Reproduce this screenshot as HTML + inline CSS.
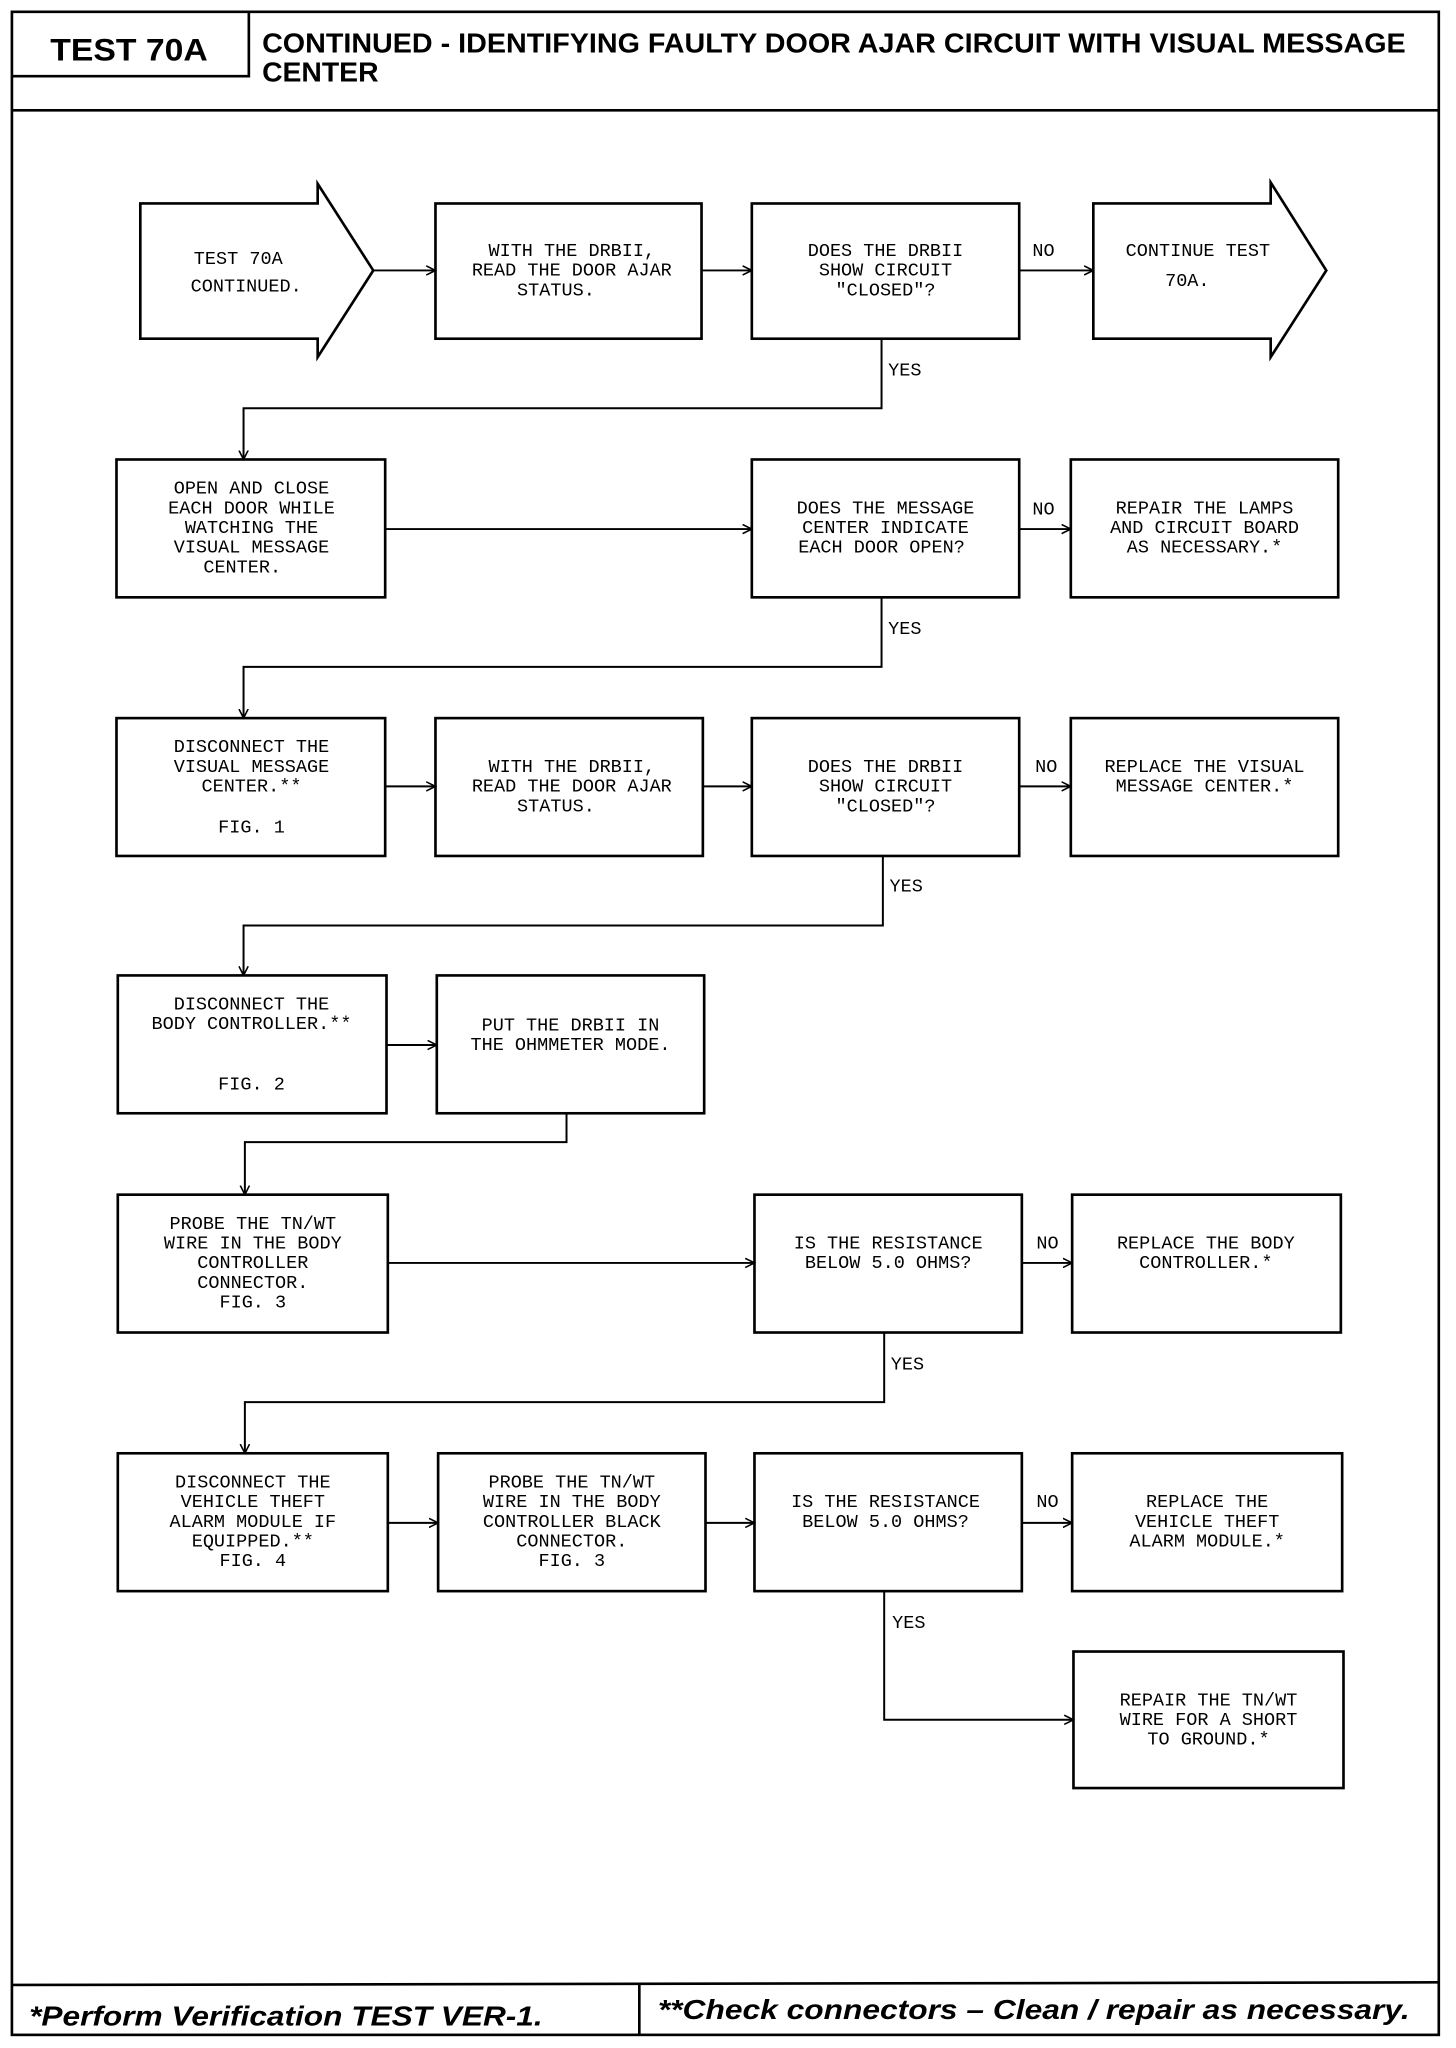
<!DOCTYPE html>
<html><head><meta charset="utf-8"><style>
html,body{margin:0;padding:0;background:#fff;}
svg{display:block;}
.t{font-family:"Liberation Mono",monospace;font-size:14px;fill:#000;text-anchor:middle;}
.l{font-family:"Liberation Mono",monospace;font-size:14px;fill:#000;}
</style></head><body>
<svg width="1456" height="2048" viewBox="0 0 1100 1560" preserveAspectRatio="none" xmlns="http://www.w3.org/2000/svg">
<defs><marker id="a" markerWidth="8" markerHeight="8" refX="7" refY="4" orient="auto" markerUnits="userSpaceOnUse"><path d="M0,0.5 L7,4 L0,7.5" fill="none" stroke="#000" stroke-width="1.2"/></marker></defs>
<g fill="none" stroke="#000" stroke-width="2">
<rect x="9" y="9" width="1078" height="1541"/>
<line x1="9" y1="84" x2="1087" y2="84"/>
<path d="M9,58 H188 V9"/>
<line x1="9" y1="1512" x2="1087" y2="1510"/>
<line x1="483" y1="1512" x2="483" y2="1550"/>
<!-- row1 -->
<path d="M106,155 H240 V140 L282,206 L240,272 V258 H106 Z"/>
<rect x="329" y="155" width="201" height="103"/>
<rect x="568" y="155" width="202" height="103"/>
<path d="M826,155 H960 V139 L1002,206 L960,272 V258 H826 Z"/>
<!-- row2 -->
<rect x="88" y="350" width="203" height="105"/>
<rect x="568" y="350" width="202" height="105"/>
<rect x="809" y="350" width="202" height="105"/>
<!-- row3 -->
<rect x="88" y="547" width="203" height="105"/>
<rect x="329" y="547" width="202" height="105"/>
<rect x="568" y="547" width="202" height="105"/>
<rect x="809" y="547" width="202" height="105"/>
<!-- row4 -->
<rect x="89" y="743" width="203" height="105"/>
<rect x="330" y="743" width="202" height="105"/>
<!-- row5 -->
<rect x="89" y="910" width="204" height="105"/>
<rect x="570" y="910" width="202" height="105"/>
<rect x="810" y="910" width="203" height="105"/>
<!-- row6 -->
<rect x="89" y="1107" width="204" height="105"/>
<rect x="331" y="1107" width="202" height="105"/>
<rect x="570" y="1107" width="202" height="105"/>
<rect x="810" y="1107" width="204" height="105"/>
<rect x="811" y="1258" width="204" height="104"/>
</g>
<g fill="none" stroke="#000" stroke-width="1.5">
<line x1="282" y1="206" x2="329" y2="206" marker-end="url(#a)"/>
<line x1="530" y1="206" x2="568" y2="206" marker-end="url(#a)"/>
<line x1="770" y1="206" x2="826" y2="206" marker-end="url(#a)"/>
<path d="M666,258 V311 H184 V350" marker-end="url(#a)"/>
<line x1="291" y1="403" x2="568" y2="403" marker-end="url(#a)"/>
<line x1="770" y1="403" x2="809" y2="403" marker-end="url(#a)"/>
<path d="M666,455 V508 H184 V547" marker-end="url(#a)"/>
<line x1="291" y1="599" x2="329" y2="599" marker-end="url(#a)"/>
<line x1="531" y1="599" x2="568" y2="599" marker-end="url(#a)"/>
<line x1="770" y1="599" x2="809" y2="599" marker-end="url(#a)"/>
<path d="M667,652 V705 H184 V743" marker-end="url(#a)"/>
<line x1="292" y1="796" x2="330" y2="796" marker-end="url(#a)"/>
<path d="M428,848 V870 H185 V910" marker-end="url(#a)"/>
<line x1="293" y1="962" x2="570" y2="962" marker-end="url(#a)"/>
<line x1="772" y1="962" x2="810" y2="962" marker-end="url(#a)"/>
<path d="M668,1015 V1068 H185 V1107" marker-end="url(#a)"/>
<line x1="293" y1="1160" x2="331" y2="1160" marker-end="url(#a)"/>
<line x1="533" y1="1160" x2="570" y2="1160" marker-end="url(#a)"/>
<line x1="772" y1="1160" x2="810" y2="1160" marker-end="url(#a)"/>
<path d="M668,1212 V1310 H811" marker-end="url(#a)"/>
</g>
<!-- header -->
<text x="38" y="46" font-family="Liberation Sans,sans-serif" font-weight="bold" font-size="24" textLength="119" lengthAdjust="spacingAndGlyphs">TEST 70A</text>
<text x="198" y="40" font-family="Liberation Sans,sans-serif" font-weight="bold" font-size="21" textLength="864" lengthAdjust="spacingAndGlyphs">CONTINUED - IDENTIFYING FAULTY DOOR AJAR CIRCUIT WITH VISUAL MESSAGE</text>
<text x="198" y="62" font-family="Liberation Sans,sans-serif" font-weight="bold" font-size="21" textLength="88" lengthAdjust="spacingAndGlyphs">CENTER</text>
<!-- footer -->
<text x="22" y="1543" font-family="Liberation Sans,sans-serif" font-weight="bold" font-style="italic" font-size="21" textLength="388" lengthAdjust="spacingAndGlyphs">*Perform Verification TEST VER-1.</text>
<text x="497" y="1538" font-family="Liberation Sans,sans-serif" font-weight="bold" font-style="italic" font-size="21" textLength="568" lengthAdjust="spacingAndGlyphs">**Check connectors – Clean / repair as necessary.</text>
<!-- node texts -->
<g class="t">
<text x="180" y="201">TEST 70A</text><text x="186" y="222">CONTINUED.</text>
<text x="432" y="195">WITH THE DRBII,</text><text x="432" y="210">READ THE DOOR AJAR</text><text x="420" y="225">STATUS.</text>
<text x="669" y="195">DOES THE DRBII</text><text x="669" y="210">SHOW CIRCUIT</text><text x="669" y="225">"CLOSED"?</text>
<text x="905" y="195">CONTINUE TEST</text><text x="897" y="218">70A.</text>
<text x="190" y="376">OPEN AND CLOSE</text><text x="190" y="391">EACH DOOR WHILE</text><text x="190" y="406">WATCHING THE</text><text x="190" y="421">VISUAL MESSAGE</text><text x="183" y="436">CENTER.</text>
<text x="669" y="391">DOES THE MESSAGE</text><text x="669" y="406">CENTER INDICATE</text><text x="666" y="421">EACH DOOR OPEN?</text>
<text x="910" y="391">REPAIR THE LAMPS</text><text x="910" y="406">AND CIRCUIT BOARD</text><text x="910" y="421">AS NECESSARY.*</text>
<text x="190" y="573">DISCONNECT THE</text><text x="190" y="588">VISUAL MESSAGE</text><text x="190" y="603">CENTER.**</text><text x="190" y="634">FIG. 1</text>
<text x="432" y="588">WITH THE DRBII,</text><text x="432" y="603">READ THE DOOR AJAR</text><text x="420" y="618">STATUS.</text>
<text x="669" y="588">DOES THE DRBII</text><text x="669" y="603">SHOW CIRCUIT</text><text x="669" y="618">"CLOSED"?</text>
<text x="910" y="588">REPLACE THE VISUAL</text><text x="910" y="603">MESSAGE CENTER.*</text>
<text x="190" y="769">DISCONNECT THE</text><text x="190" y="784">BODY CONTROLLER.**</text><text x="190" y="830">FIG. 2</text>
<text x="431" y="785">PUT THE DRBII IN</text><text x="431" y="800">THE OHMMETER MODE.</text>
<text x="191" y="936">PROBE THE TN/WT</text><text x="191" y="951">WIRE IN THE BODY</text><text x="191" y="966">CONTROLLER</text><text x="191" y="981">CONNECTOR.</text><text x="191" y="996">FIG. 3</text>
<text x="671" y="951">IS THE RESISTANCE</text><text x="671" y="966">BELOW 5.0 OHMS?</text>
<text x="911" y="951">REPLACE THE BODY</text><text x="911" y="966">CONTROLLER.*</text>
<text x="191" y="1133">DISCONNECT THE</text><text x="191" y="1148">VEHICLE THEFT</text><text x="191" y="1163">ALARM MODULE IF</text><text x="191" y="1178">EQUIPPED.**</text><text x="191" y="1193">FIG. 4</text>
<text x="432" y="1133">PROBE THE TN/WT</text><text x="432" y="1148">WIRE IN THE BODY</text><text x="432" y="1163">CONTROLLER BLACK</text><text x="432" y="1178">CONNECTOR.</text><text x="432" y="1193">FIG. 3</text>
<text x="669" y="1148">IS THE RESISTANCE</text><text x="669" y="1163">BELOW 5.0 OHMS?</text>
<text x="912" y="1148">REPLACE THE</text><text x="912" y="1163">VEHICLE THEFT</text><text x="912" y="1178">ALARM MODULE.*</text>
<text x="913" y="1299">REPAIR THE TN/WT</text><text x="913" y="1314">WIRE FOR A SHORT</text><text x="913" y="1329">TO GROUND.*</text>
</g>
<g class="l">
<text x="780" y="195">NO</text><text x="671" y="286">YES</text>
<text x="780" y="392">NO</text><text x="671" y="483">YES</text>
<text x="782" y="588">NO</text><text x="672" y="679">YES</text>
<text x="783" y="951">NO</text><text x="673" y="1043">YES</text>
<text x="783" y="1148">NO</text><text x="674" y="1240">YES</text>
</g>
</svg>
</body></html>
